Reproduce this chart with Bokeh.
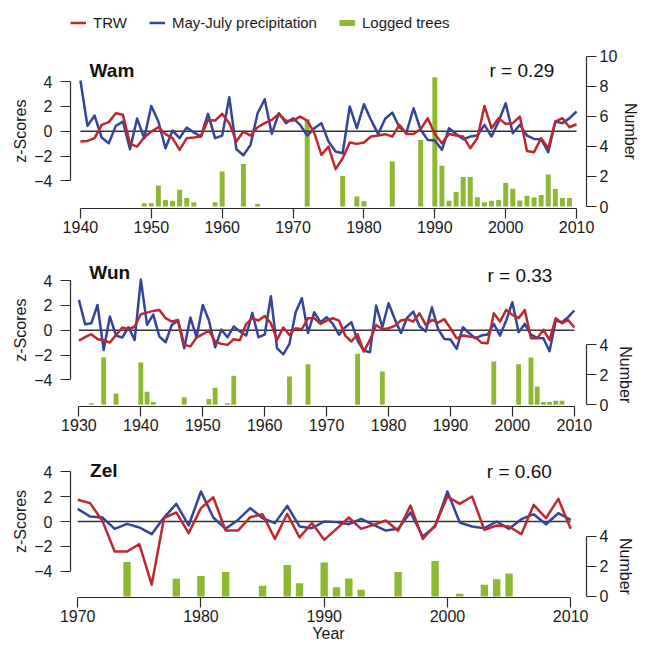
from bokeh.plotting import figure
from bokeh.models import Range1d, LinearAxis, FixedTicker, Label, Legend, LegendItem, Title
from bokeh.layouts import column
from bokeh.embed import file_html
from bokeh.resources import INLINE

# ---------------- data ----------------
wam_years = list(range(1940, 2011))
wam_trw = [-0.83, -0.78, -0.56, 0.51, 0.73, 1.45, 1.32, -1.02, -1.24, -0.51,
           -0.03, 0.32, -0.24, -0.56, -1.50, -0.56, -0.51, -0.43, 0.91, 0.86,
           1.40, 0.65, -0.83, -0.03, -0.35, 0.32, 0.65, 0.91, 1.40, 0.83,
           0.86, 1.18, 0.86, -0.16, -1.91, -1.24, -3.06, -2.18, -0.91, -1.02,
           -0.91, -0.43, -0.35, -0.24, -0.43, 0.51, -0.22, -0.22, 0.16, 1.05,
           -0.22, -0.97, -0.22, -0.35, -0.43, -1.37, -0.56, 2.04, 0.24, 1.05,
           0.59, 0.65, 1.18, -1.59, -1.69, -0.56, -1.37, 0.78, 1.05, 0.32,
           0.56]
wam_prec = [4.09, 0.43, 1.26, -0.51, -0.97, 0.43, 0.78, -1.45, 1.02, -0.56,
            2.04, 0.78, -1.37, 0.05, -0.56, 0.30, -0.10, -0.43, 1.40, -0.56,
            -0.35, 2.74, -1.45, -1.94, -1.10, 1.45, 2.58, -0.22, 1.45, 0.65,
            1.05, 0.51, -0.35, 0.24, 0.65, -0.83, -1.64, -1.77, 1.99, 0.24,
            2.18, 0.91, -0.22, 1.00, 1.50, 0.32, -0.10, 1.85, 0.11, -0.70,
            -0.75, -1.50, 0.24, -0.22, -0.65, -0.43, -0.35, 0.51, -0.43, 0.78,
            2.26, -0.16, 0.51, -0.35, -0.62, -0.65, -1.69, 0.78, 0.65, 1.05,
            1.59]
wam_logged_years = [1949, 1950, 1951, 1952, 1953, 1954, 1955, 1956, 1959, 1960,
                    1963, 1965, 1972, 1977, 1979, 1980, 1984, 1988, 1990, 1991,
                    1992, 1993, 1994, 1995, 1996, 1997, 1998, 1999, 2000, 2001,
                    2002, 2003, 2004, 2005, 2006, 2007, 2008, 2009]
wam_logged = [0.22, 0.22, 1.40, 0.44, 0.38, 1.11, 0.56, 0.29, 0.29, 2.33,
              2.84, 0.16, 5.82, 2.04, 0.67, 0.36, 3.00, 4.44, 8.62, 2.71,
              0.38, 0.96, 1.96, 1.96, 0.62, 0.29, 0.38, 0.44, 1.56, 1.18,
              0.40, 0.71, 0.60, 0.76, 2.13, 1.16, 0.56, 0.56]

wun_years = list(range(1930, 2011))
wun_trw = [-0.83, -0.56, -0.32, -0.70, -0.83, -0.99, -0.38, 0.22, 0.08, 0.30,
           1.29, 1.42, 1.56, 1.64, 0.97, 0.70, 0.83, -1.18, -1.30, -0.59,
           -0.32, -0.03, -0.91, -1.10, -1.18, -0.73, -0.80, 0.50, 0.97, 0.78,
           1.15, 0.56, -0.78, 0.22, -0.38, 0.16, 0.08, 0.97, 0.97, 0.51,
           0.78, 0.97, 0.78, -0.43, -0.91, -0.32, -1.72, -0.78, 0.43, 0.08,
           0.16, 0.35, 0.78, 0.89, 0.70, 1.37, 0.43, 0.83, 0.62, 0.89,
           0.16, -0.65, -0.43, -0.51, -0.56, -1.00, -1.05, 1.37, 0.70, 1.64,
           1.24, 0.97, 1.64, -0.65, -0.65, 0.03, -0.78, 0.97, 0.56, 0.83,
           0.22]
wun_prec = [2.45, 0.48, 0.56, 2.04, -1.59, 1.10, -0.43, -0.59, 0.24, -0.78,
            4.09, 0.43, 1.26, -0.51, -0.97, 0.43, 0.78, -1.45, 1.02, -0.56,
            2.04, 0.78, -1.37, 0.05, -0.56, 0.30, -0.10, -0.43, 1.40, -0.56,
            -0.35, 2.74, -1.45, -1.94, -1.10, 1.45, 2.58, -0.22, 1.45, 0.65,
            1.05, 0.51, -0.35, 0.24, 0.65, -0.83, -1.64, -1.77, 1.99, 0.24,
            2.18, 0.91, -0.22, 1.00, 1.50, 0.32, -0.10, 1.85, 0.11, -0.70,
            -0.75, -1.50, 0.24, -0.22, -0.65, -0.43, -0.35, 0.51, -0.43, 0.78,
            2.26, -0.16, 0.51, -0.35, -0.62, -0.65, -1.69, 0.78, 0.65, 1.05,
            1.59]
wun_logged_years = [1932, 1934, 1936, 1940, 1941, 1942, 1947, 1951, 1952, 1954,
                    1955, 1964, 1967, 1975, 1979, 1997, 2001, 2003, 2004, 2005,
                    2006, 2007, 2008]
wun_logged = [0.11, 3.16, 0.76, 2.82, 0.87, 0.18, 0.51, 0.38, 1.13, 0.11,
              1.93, 1.89, 2.71, 3.40, 2.22, 2.89, 2.71, 3.16, 1.22, 0.18,
              0.18, 0.27, 0.27]

zel_years = list(range(1970, 2011))
zel_trw = [1.75, 1.48, 0.05, -2.42, -2.42, -1.83, -5.10, 0.27, 0.73, -0.94,
           1.08, 1.96, -0.73, -0.73, 0.35, 0.59, -1.40, 0.62, -1.29, -0.13,
           -1.48, -0.59, 0.32, -0.59, -0.27, 0.08, -0.75, 1.29, -1.40, -0.32,
           2.02, 1.42, 2.02, -0.67, -0.32, -0.40, -1.02, 1.34, 0.27, 1.83,
           -0.59]
zel_prec = [1.02, 0.40, 0.32, -0.59, -0.19, -0.48, -1.02, 0.32, 1.42, -0.32,
            2.42, 0.32, -0.59, 0.13, 1.08, 0.27, -0.13, 1.26, -0.40, -0.54,
            0.00, -0.05, -0.22, 0.22, -0.27, -0.73, -0.59, 0.73, -1.21, -0.40,
            2.42, -0.08, -0.40, -0.54, 0.00, -0.59, 0.19, 0.59, -0.22, 0.67,
            0.13]
zel_logged_years = [1974, 1978, 1980, 1982, 1985, 1987, 1988, 1990, 1991, 1992,
                    1993, 1996, 1999, 2001, 2003, 2004, 2005]
zel_logged = [2.30, 1.18, 1.36, 1.63, 0.72, 2.10, 0.88, 2.26, 0.61, 1.20,
              0.45, 1.63, 2.37, 0.18, 0.79, 1.15, 1.54]

site_names = ["Wam", "Wun", "Zel"]
r_texts = ["r = 0.29", "r = 0.33", "r = 0.60"]
z_ticks = [-4, -2, 0, 2, 4]
legend_labels = ["TRW", "May-July precipitation", "Logged trees"]

# ---------------- style ----------------
RED = "#c0272d"
BLUE = "#33449b"
GREEN = "#8cb832"
AXIS = "#2a2a2a"
TXT = "#1a1a1a"
FONT = "Liberation Sans"
W = 641
LEFT = 70
RIGHT = 50
ZLAB_LEN = 63.0   # approx. rendered length of "z-Scores" at 16px
NLAB_LEN = 57.0   # approx. rendered length of "Number" at 16px


def style_axis(ax):
    ax.axis_line_color = AXIS
    ax.axis_line_width = 1.2
    ax.major_tick_line_color = AXIS
    ax.major_tick_line_width = 1.2
    ax.major_tick_out = 10
    ax.major_tick_in = 0
    ax.minor_tick_line_color = None
    ax.major_label_text_font = FONT
    ax.major_label_text_font_size = "16px"
    ax.major_label_text_color = TXT
    ax.axis_label_text_font = FONT
    ax.axis_label_text_font_size = "16px"
    ax.axis_label_text_font_style = "normal"
    ax.axis_label_text_color = TXT


def side_title(text, align, offset, standoff):
    return Title(text=text, align=align, offset=offset, standoff=standoff,
                 text_font=FONT, text_font_size="16px", text_font_style="normal",
                 text_color=TXT)


def panel(years, trw, prec, lyears, lvals, name, rtext, xr, zr, nr, nmax,
          height, top, bottom, bar_w, name_pos, r_pos, legend=False, xlabel=None):
    p = figure(width=W, height=height, output_backend="svg", toolbar_location=None,
               x_range=Range1d(*xr), y_range=Range1d(*zr),
               min_border_left=LEFT, min_border_right=RIGHT,
               min_border_top=top, min_border_bottom=bottom,
               outline_line_color=None, background_fill_color="white",
               border_fill_color="white")
    p.grid.visible = False
    p.extra_y_ranges = {"n": Range1d(*nr)}
    frame_h = height - top - bottom
    z_px = frame_h / (zr[1] - zr[0])
    n_px = frame_h / (nr[1] - nr[0])

    p.vbar(x=lyears, top=lvals, bottom=0, width=bar_w, y_range_name="n",
           fill_color=GREEN, line_color=None)
    p.segment(x0=[years[0]], x1=[years[-1]], y0=[0], y1=[0],
              line_color="#333333", line_width=1.5)
    r_prec = p.line(years, prec, line_color=BLUE, line_width=2.5, line_join="round")
    r_trw = p.line(years, trw, line_color=RED, line_width=2.5, line_join="round")

    xa = p.xaxis[0]
    style_axis(xa)
    xa.ticker = FixedTicker(ticks=list(range(years[0], years[-1] + 1, 10)))
    xa.bounds = (years[0], years[-1])
    xa.major_label_standoff = 2
    if xlabel:
        xa.axis_label = xlabel
        xa.axis_label_standoff = 0

    ya = p.yaxis[0]
    style_axis(ya)
    ya.ticker = FixedTicker(ticks=z_ticks)
    ya.bounds = (z_ticks[0], z_ticks[-1])
    ya.major_label_standoff = 8

    ra = LinearAxis(y_range_name="n")
    style_axis(ra)
    ra.ticker = FixedTicker(ticks=list(range(0, nmax + 1, 2)))
    ra.bounds = (0, nmax)
    ra.major_label_standoff = 3
    p.add_layout(ra, "right")

    # axis titles centred on the drawn axis extent
    z_mid_from_top = (zr[1] - (z_ticks[0] + z_ticks[-1]) / 2) * z_px
    n_mid_from_top = (nr[1] - nmax / 2) * n_px
    p.add_layout(side_title("z-Scores", "left",
                            frame_h - z_mid_from_top - ZLAB_LEN / 2, 6), "left")
    p.add_layout(side_title("Number", "left",
                            n_mid_from_top - NLAB_LEN / 2,
                            2 if nmax >= 10 else 10), "right")

    p.add_layout(Label(x=name_pos[0], y=name_pos[1], text=name, text_font=FONT,
                       text_font_size="19px", text_font_style="bold",
                       text_baseline="middle", text_align="left", text_color="#111111"))
    p.add_layout(Label(x=r_pos[0], y=r_pos[1], text=rtext, text_font=FONT,
                       text_font_size="19px", text_baseline="middle",
                       text_align="left", text_color="#111111"))

    if legend:
        proxy = p.line(lyears, lvals, y_range_name="n", line_color=GREEN,
                       line_width=6, visible=False)
        leg = Legend(items=[LegendItem(label=legend_labels[0], renderers=[r_trw]),
                            LegendItem(label=legend_labels[1], renderers=[r_prec]),
                            LegendItem(label=legend_labels[2], renderers=[proxy])],
                     orientation="horizontal", location=(0, 177),
                     border_line_color=None, background_fill_alpha=0,
                     padding=0, margin=0, spacing=22, label_standoff=7,
                     glyph_width=16, glyph_height=17, label_height=17,
                     label_text_font=FONT, label_text_font_size="15px",
                     label_text_color=TXT)
        p.add_layout(leg)
    return p


p1 = panel(wam_years, wam_trw, wam_prec, wam_logged_years, wam_logged,
           site_names[0], r_texts[0],
           (1938.603, 2011.397), (-6.23, 9.81), (-0.133, 13.13), 10,
           241, 9, 33, 0.7, (1941.3, 4.9), (1997.7, 4.93), legend=True)
p2 = panel(wun_years, wun_trw, wun_prec, wun_logged_years, wun_logged,
           site_names[1], r_texts[1],
           (1928.641, 2011.967), (-6.15, 6.35), (-0.113, 10.22), 4,
           198, 10, 33, 0.78, (1931.68, 4.65), (1995.97, 4.4))
p3 = panel(zel_years, zel_trw, zel_prec, zel_logged_years, zel_logged,
           site_names[2], r_texts[2],
           (1969.413, 2011.286), (-6.13, 6.05), (-0.067, 10.0), 4,
           206, 7, 48, 0.6, (1971.0, 4.15), (2003.2, 4.03), xlabel="Year")

layout = column(p1, p2, p3, spacing=0)
open("out.html", "w").write(file_html(layout, INLINE))
